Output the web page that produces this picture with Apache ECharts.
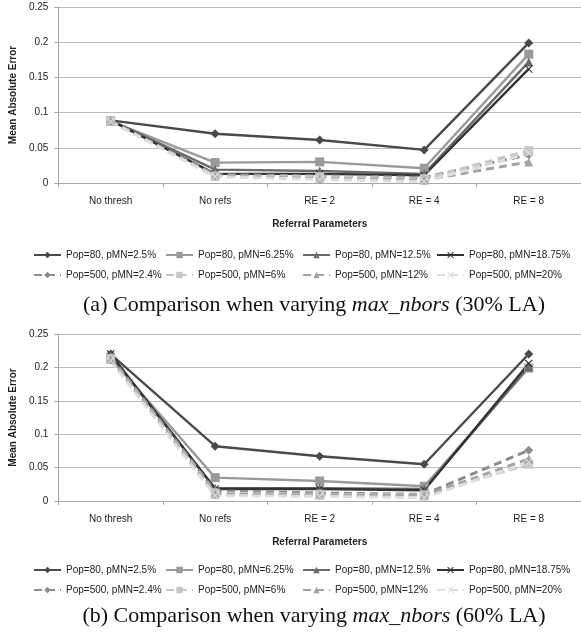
<!DOCTYPE html>
<html>
<head>
<meta charset="utf-8">
<script src="https://cdn.jsdelivr.net/npm/echarts@6/dist/echarts.min.js"></script>
<style>
  html, body { margin: 0; padding: 0; background: #fff; }
  #chartA { position: absolute; left: 0; top: 0; width: 581px; height: 318px; }
  #chartB { position: absolute; left: 0; top: 318px; width: 581px; height: 319px; }
</style>
</head>
<body>
<div id="chartA"></div>
<div id="chartB"></div>
<script>
// MAE per referral setting (30% LA and 60% LA)

const categories = ["No thresh", "No refs", "RE = 2", "RE = 4", "RE = 8"];

const seriesNames = [
  "Pop=80, pMN=2.5%",
  "Pop=80, pMN=6.25%",
  "Pop=80, pMN=12.5%",
  "Pop=80, pMN=18.75%",
  "Pop=500, pMN=2.4%",
  "Pop=500, pMN=6%",
  "Pop=500, pMN=12%",
  "Pop=500, pMN=20%",
];

// (a) 30% LA
const la30_p80_2_5 = [0.089, 0.070, 0.061, 0.047, 0.199];
const la30_p80_6_25 = [0.088, 0.029, 0.030, 0.021, 0.183];
const la30_p80_12_5 = [0.089, 0.019, 0.017, 0.013, 0.172];
const la30_p80_18_75 = [0.089, 0.013, 0.013, 0.011, 0.162];
const la30_p500_2_4 = [0.088, 0.012, 0.010, 0.008, 0.040];
const la30_p500_6 = [0.088, 0.010, 0.009, 0.006, 0.046];
const la30_p500_12 = [0.088, 0.010, 0.006, 0.004, 0.030];
const la30_p500_20 = [0.087, 0.009, 0.005, 0.002, 0.042];

// (b) 60% LA
const la60_p80_2_5 = [0.220, 0.082, 0.067, 0.055, 0.220];
const la60_p80_6_25 = [0.214, 0.035, 0.030, 0.022, 0.199];
const la60_p80_12_5 = [0.218, 0.019, 0.019, 0.018, 0.201];
const la60_p80_18_75 = [0.220, 0.018, 0.018, 0.016, 0.206];
const la60_p500_2_4 = [0.216, 0.015, 0.012, 0.010, 0.076];
const la60_p500_6 = [0.213, 0.012, 0.010, 0.009, 0.055];
const la60_p500_12 = [0.212, 0.010, 0.009, 0.008, 0.063];
const la60_p500_20 = [0.210, 0.008, 0.007, 0.005, 0.058];

const valuesA = [la30_p80_2_5, la30_p80_6_25, la30_p80_12_5, la30_p80_18_75,
  la30_p500_2_4, la30_p500_6, la30_p500_12, la30_p500_20];
const valuesB = [la60_p80_2_5, la60_p80_6_25, la60_p80_12_5, la60_p80_18_75,
  la60_p500_2_4, la60_p500_6, la60_p500_12, la60_p500_20];

const X_MARK = "path://M0,1L1,0L5,4L9,0L10,1L6,5L10,9L9,10L5,6L1,10L0,9L4,5Z";

// look of each series (Excel grayscale)
const styles = [
  { color: "#4a4a4a", symbol: "diamond", dashed: false },
  { color: "#9a9a9a", symbol: "rect", dashed: false },
  { color: "#6b6b6b", symbol: "triangle", dashed: false },
  { color: "#333333", symbol: X_MARK, dashed: false },
  { color: "#8c8c8c", symbol: "diamond", dashed: true },
  { color: "#c6c6c6", symbol: "rect", dashed: true },
  { color: "#a3a3a3", symbol: "triangle", dashed: true },
  { color: "#dddddd", symbol: X_MARK, dashed: true },
];

const FONT = "Liberation Sans, Arial, sans-serif";
const SERIF = "Liberation Serif, Times New Roman, serif";
const legendCols = [28, 160, 297, 431];

function buildOption(values, lay) {
  const series = values.map((vals, i) => {
    const s = styles[i];
    return {
      name: seriesNames[i],
      type: "line",
      data: vals,
      symbol: s.symbol,
      symbolSize: s.symbol === X_MARK ? 8 : 9,
      showAllSymbol: true,
      animation: false,
      itemStyle: { color: s.color },
      lineStyle: s.dashed
        ? { color: s.color, width: 3, type: [8, 5] }
        : { color: s.color, width: 2.4 },
    };
  });

  const legends = seriesNames.map((name, i) => ({
    data: [name],
    left: legendCols[i % 4],
    top: i < 4 ? lay.legendTop : lay.legendTop + 20,
    itemWidth: 27,
    itemHeight: 8,
    itemGap: 0,
    textStyle: { fontFamily: FONT, fontSize: 10, color: "#222" },
    selectedMode: false,
  }));

  return {
    backgroundColor: "#fff",
    animation: false,
    title: {
      text: lay.caption,
      left: 309,
      textAlign: "center",
      top: lay.captionTop,
      textStyle: {
        fontFamily: SERIF,
        fontSize: 22,
        fontWeight: "normal",
        color: "#111",
        rich: {
          i: { fontFamily: SERIF, fontSize: 22, fontStyle: "italic", color: "#111" },
        },
      },
    },
    legend: legends,
    grid: { left: 58, top: lay.gridTop, width: 527, height: lay.gridHeight },
    xAxis: {
      type: "category",
      data: categories,
      boundaryGap: true,
      axisLine: { lineStyle: { color: "#a6a6a6", width: 1 } },
      axisTick: { show: true, length: 4, lineStyle: { color: "#a6a6a6" } },
      axisLabel: { fontFamily: FONT, fontSize: 10, color: "#222", margin: 13 },
      name: "Referral Parameters",
      nameLocation: "middle",
      nameGap: 36,
      nameTextStyle: { fontFamily: FONT, fontSize: 10, fontWeight: "bold", color: "#222" },
    },
    yAxis: {
      type: "value",
      min: 0,
      max: 0.25,
      interval: 0.05,
      axisLine: { show: true, lineStyle: { color: "#a6a6a6", width: 1 } },
      axisTick: { show: true, length: 4, lineStyle: { color: "#a6a6a6" } },
      axisLabel: { fontFamily: FONT, fontSize: 10, color: "#222", margin: 10 },
      splitLine: { lineStyle: { color: "#bdbdbd", width: 1.2 } },
      name: "Mean Absolute Error",
      nameLocation: "middle",
      nameGap: 40,
      nameTextStyle: { fontFamily: FONT, fontSize: 10, fontWeight: "bold", color: "#222" },
    },
    series: series,
  };
}

const chartA = echarts.init(document.getElementById("chartA"));
const chartB = echarts.init(document.getElementById("chartB"));

chartA.setOption(buildOption(valuesA, {
  gridTop: 7, gridHeight: 176, legendTop: 245, captionTop: 289,
  caption: "(a) Comparison when varying {i|max_nbors} (30% LA)",
}));
chartB.setOption(buildOption(valuesB, {
  gridTop: 16, gridHeight: 167, legendTop: 242, captionTop: 282,
  caption: "(b) Comparison when varying {i|max_nbors} (60% LA)",
}));
</script>
</body>
</html>
